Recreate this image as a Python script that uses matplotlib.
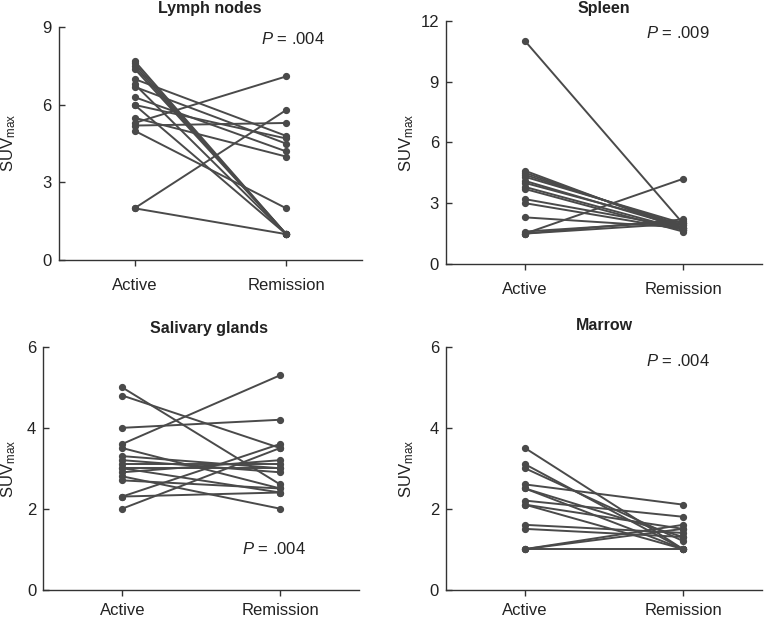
import matplotlib
matplotlib.use("Agg")
import matplotlib.pyplot as plt

plt.rcParams['font.family'] = ['Liberation Sans', 'DejaVu Sans']
plt.rcParams['mathtext.fontset'] = 'custom'
plt.rcParams['mathtext.rm'] = 'Liberation Sans'
plt.rcParams['mathtext.it'] = 'Liberation Sans:italic'

groups = ["Active", "Remission"]

lymph_active = [7.7, 7.6, 7.5, 7.4, 7.0, 6.8, 6.7, 6.3, 6.0, 6.0, 5.5, 5.3, 5.2, 5.0, 2.0, 2.0]
lymph_remission = [1.0, 1.0, 1.0, 1.0, 4.8, 1.0, 4.5, 4.2, 4.7, 1.0, 4.0, 7.1, 5.3, 2.0, 5.8, 1.0]

spleen_active = [11.0, 4.6, 4.5, 4.4, 4.3, 4.1, 4.0, 3.8, 3.7, 3.2, 3.0, 2.3, 1.6, 1.5, 1.5, 1.5]
spleen_remission = [2.0, 1.7, 1.8, 1.9, 2.0, 1.8, 1.9, 1.7, 1.6, 1.8, 1.7, 1.8, 2.1, 4.2, 2.2, 2.0]

saliva_active = [5.0, 4.8, 4.0, 3.6, 3.5, 3.3, 3.2, 3.1, 3.0, 3.0, 2.9, 2.8, 2.7, 2.3, 2.3, 2.0]
saliva_remission = [2.6, 3.5, 4.2, 5.3, 2.5, 3.0, 2.9, 3.1, 2.4, 3.0, 3.2, 2.0, 2.5, 2.4, 3.6, 3.5]

marrow_active = [3.5, 3.1, 3.0, 2.6, 2.5, 2.5, 2.2, 2.1, 2.1, 1.6, 1.5, 1.0, 1.0, 1.0]
marrow_remission = [1.0, 1.0, 1.2, 2.1, 1.0, 1.3, 1.8, 1.5, 1.0, 1.4, 1.3, 1.6, 1.5, 1.0]

titles = ["Lymph nodes", "Spleen", "Salivary glands", "Marrow"]
pvalues = [".004", ".009", ".004", ".004"]
ymaxes = [9, 12, 6, 6]
yticks = [[0, 3, 6, 9], [0, 3, 6, 9, 12], [0, 2, 4, 6], [0, 2, 4, 6]]

W, H = 764, 620
fig = plt.figure(figsize=(W / 100, H / 100), dpi=100)

# axes boxes in pixels: left, top, right, bottom
boxes = [(58.7, 27.3, 362, 260), (446, 20.7, 762, 264),
         (43.3, 347, 359, 589.5), (446, 347, 762, 589.5)]
xpads = [9, 9, 6, 6]
ptext = [(0.667, 0.95), (0.633, 0.949), (0.629, 0.167), (0.633, 0.943)]
title_pos = [(210, 9), (604, 9), (209, 328), (604, 326)]
ylab_pos = [(9, 143), (407, 143), (9, 469), (407, 469)]

data = [(lymph_active, lymph_remission), (spleen_active, spleen_remission),
        (saliva_active, saliva_remission), (marrow_active, marrow_remission)]

col = '#4a4a4a'
for i, (a, r) in enumerate(data):
    l, t, rr, b = boxes[i]
    ax = fig.add_axes([l / W, 1 - b / H, (rr - l) / W, (b - t) / H])
    for va, vr in zip(a, r):
        ax.plot([0, 1], [va, vr], color=col, lw=1.4, marker='o', ms=4.2,
                solid_capstyle='round', clip_on=False)
    ax.set_xlim(-0.5, 1.5)
    ax.set_ylim(0, ymaxes[i])
    ax.set_xticks([0, 1])
    ax.set_xticklabels(groups)
    ax.set_yticks(yticks[i])
    for s in ['top', 'right']:
        ax.spines[s].set_visible(False)
    for s in ['left', 'bottom']:
        ax.spines[s].set_color('#333333')
        ax.spines[s].set_linewidth(1.0)
    ax.tick_params(axis='y', direction='in', length=4, width=1, colors='#333333',
                   labelsize=12, pad=5, labelcolor='#222222')
    ax.tick_params(axis='x', direction='out', length=4, width=1, colors='#333333',
                   labelsize=12, pad=xpads[i], labelcolor='#222222')
    px, py = ptext[i]
    ax.text(px, py, r'$\mathit{P}$' + ' = ' + pvalues[i], transform=ax.transAxes,
            fontsize=12, color='#222222', ha='left', va='center')
    tx, ty = title_pos[i]
    fig.text(tx / W, 1 - ty / H, titles[i], fontsize=11.5, fontweight='bold',
             ha='center', va='center', color='#222222')
    lx, ly = ylab_pos[i]
    fig.text(lx / W, 1 - ly / H, r'SUV$_{\mathrm{max}}$', fontsize=12, rotation=90,
             ha='center', va='center', color='#222222')

fig.savefig('out.png', dpi=100)
